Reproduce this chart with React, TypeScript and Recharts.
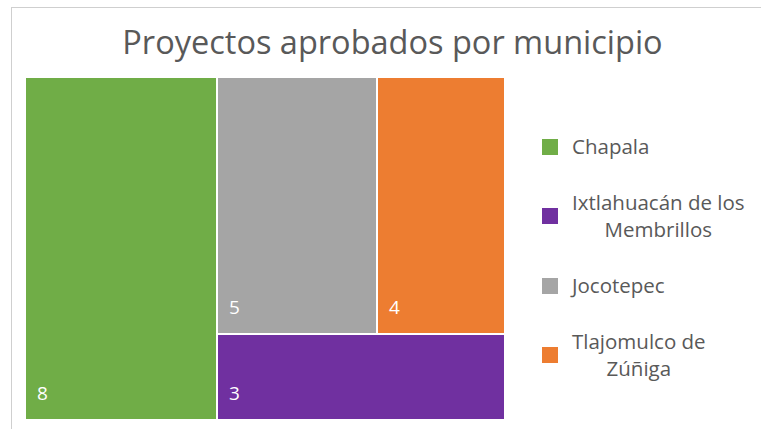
import { Treemap } from "recharts";

const municipios = ["Chapala", "Jocotepec", "Tlajomulco de Zúñiga", "Ixtlahuacán de los Membrillos"];
const proyectos = [8, 5, 4, 3];
const legendOrder = ["Chapala", "Ixtlahuacán de los Membrillos", "Jocotepec", "Tlajomulco de Zúñiga"];

const colors: Record<string, string> = {
  Chapala: "#70ad47",
  Jocotepec: "#a5a5a5",
  "Tlajomulco de Zúñiga": "#ed7d31",
  "Ixtlahuacán de los Membrillos": "#7030a0",
};

const data = municipios.map((name, i) => ({ name, value: proyectos[i] }));

const FONT = "'Open Sans', Lato, sans-serif";

// greedy word wrap, like the legend of the original
function wrap(text: string, max: number): string[] {
  const lines: string[] = [];
  let cur = "";
  for (const w of text.split(" ")) {
    const next = cur ? cur + " " + w : w;
    if (next.length > max && cur) {
      lines.push(cur);
      cur = w;
    } else {
      cur = next;
    }
  }
  if (cur) lines.push(cur);
  return lines;
}

function renderCell(props: any) {
  const { x, y, width, height, depth, name, value } = props;
  if (depth !== 1) return <g />;
  return (
    <g>
      <rect x={x} y={y} width={width} height={height} fill={colors[name]} stroke="#fff" strokeWidth={2} />
      <text x={x + 12} y={y + height - 20} fill="#fff" fontSize={19} fontFamily={FONT}>
        {value}
      </text>
    </g>
  );
}

export default function App(): JSX.Element {
  return (
    <div style={{ position: "absolute", left: 0, top: 0, width: 761, height: 429, background: "#fff", overflow: "hidden", fontFamily: FONT }}>
      <div
        style={{
          position: "absolute",
          left: 11,
          top: 7,
          width: 800,
          height: 500,
          borderLeft: "1px solid #cfcfcf",
          borderTop: "1px solid #cfcfcf",
        }}
      />
      <div
        style={{
          position: "absolute",
          left: 0,
          top: 26,
          width: 785,
          textAlign: "center",
          fontSize: 32.5,
          lineHeight: "32px",
          color: "#595959",
        }}
      >
        Proyectos aprobados por municipio
      </div>
      <div style={{ position: "absolute", left: 25, top: 77 }}>
        <Treemap
          width={480}
          height={343}
          data={data}
          dataKey="value"
          nameKey="name"
          aspectRatio={1.07}
          isAnimationActive={false}
          content={renderCell}
        />
      </div>
      <div
        style={{
          position: "absolute",
          left: 542,
          top: 133,
          display: "flex",
          flexDirection: "column",
          gap: 29,
        }}
      >
        {legendOrder.map((name) => (
          <div key={name} style={{ display: "flex", alignItems: "center" }}>
            <div style={{ width: 16, height: 16, background: colors[name], marginRight: 14, flex: "none" }} />
            <div
              style={{
                textAlign: "center",
                fontSize: 20.5,
                lineHeight: "27px",
                color: "#595959",
                whiteSpace: "nowrap",
              }}
            >
              {wrap(name, 18).map((line) => (
                <div key={line}>{line}</div>
              ))}
            </div>
          </div>
        ))}
      </div>
    </div>
  );
}
